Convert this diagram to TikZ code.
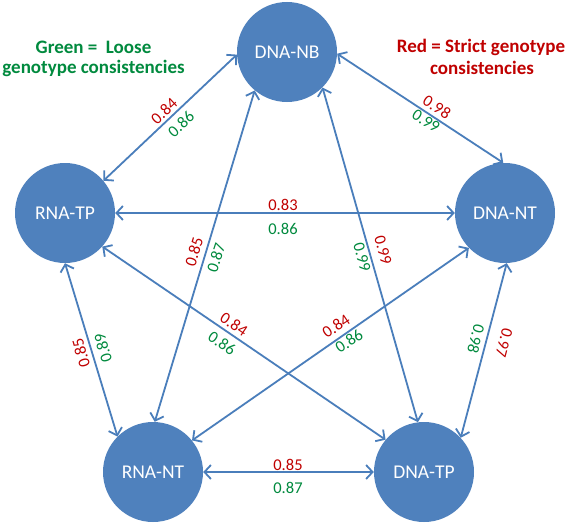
\documentclass[tikz,border=0pt]{standalone}
\usepackage{fontspec}
\setmainfont{Carlito}
\usetikzlibrary{arrows.meta}
\definecolor{cfill}{HTML}{4F81BD}
\definecolor{cline}{HTML}{4A7EBB}
\definecolor{cred}{HTML}{C00000}
\definecolor{cgreen}{HTML}{008A3E}
\begin{document}
\begin{tikzpicture}[x=1pt,y=-1pt,
 ball/.style={circle,fill=cfill,minimum size=100pt,inner sep=0pt,text=white,font=\fontsize{19.5}{22}\selectfont},
 link/.style={draw=cline,line width=1.8pt,{Straight Barb[length=6.5pt,width=14pt]}-{Straight Barb[length=6.5pt,width=14pt]}},
 val/.style={font=\fontsize{16.5}{18}\selectfont,inner sep=0pt},
 rv/.style={val,text=cred},
 gv/.style={val,text=cgreen},
 legend/.style={font=\bfseries\fontsize{19}{21}\selectfont,inner sep=0pt}]
\useasboundingbox (0,0) rectangle (567,527);
\fill[white] (0,0) rectangle (567,527);
% nodes
\node[ball] (nb) at (287,52) {DNA-NB};
\node[ball] (tp) at (65,213) {RNA-TP};
\node[ball] (nt) at (505,213) {DNA-NT};
\node[ball] (rn) at (153,472) {RNA-NT};
\node[ball] (dt) at (424,472) {DNA-TP};
% legend
\node[legend,text=cgreen] (g1) at (93.5,47) {Green =\ \ Loose};
\node[legend,text=cgreen] (g2) at (93.5,68) {genotype consistencies};
\node[legend,text=cred] (r1) at (481,47) {Red = Strict genotype};
\node[legend,text=cred] (r2) at (482,68) {consistencies};
% connectors
\draw[link] (tp.40) -- (nb.183);
\draw[link] (nb.358) -- (nt.92);
\draw[link] (tp.0) -- (nt.180);
\draw[link] (nb.230) -- (rn.88);
\draw[link] (nb.315) -- (dt.97);
\draw[link] (tp.270) -- (rn.135);
\draw[link] (tp.-42) -- (dt.140);
\draw[link] (nt.224) -- (rn.39);
\draw[link] (nt.272) -- (dt.43);
\draw[link] (rn.0) -- (dt.180);
% labels
\node[rv,rotate=43] (a1) at (164,111) {0.84};
\node[gv,rotate=43] (b1) at (181,124) {0.86};
\node[rv,rotate=-32.6] (a2) at (437,107) {0.98};
\node[gv,rotate=-32.6] (b2) at (426,121) {0.99};
\node[rv] (a3) at (283,205) {0.83};
\node[gv] (b3) at (283,229) {0.86};
\node[rv,rotate=73] (a4) at (194,252) {0.85};
\node[gv,rotate=72] (b4) at (216,258) {0.87};
\node[rv,rotate=-75] (a5) at (383,250) {0.99};
\node[gv,rotate=-75] (b5) at (362,257) {0.99};
\node[rv,rotate=106] (a6) at (81,353) {0.85};
\node[gv,rotate=106] (b6) at (103,348) {0.89};
\node[rv,rotate=-34] (a7) at (234,324) {0.84};
\node[gv,rotate=-34] (b7) at (222,343) {0.86};
\node[rv,rotate=34] (a8) at (336,326) {0.84};
\node[gv,rotate=34] (b8) at (349,341) {0.86};
\node[rv,rotate=-105] (a9) at (504,343) {0.97};
\node[gv,rotate=-105] (b9) at (476,339) {0.98};
\node[rv] (a10) at (288,465) {0.85};
\node[gv] (b10) at (288,488) {0.87};
\end{tikzpicture}
\end{document}
